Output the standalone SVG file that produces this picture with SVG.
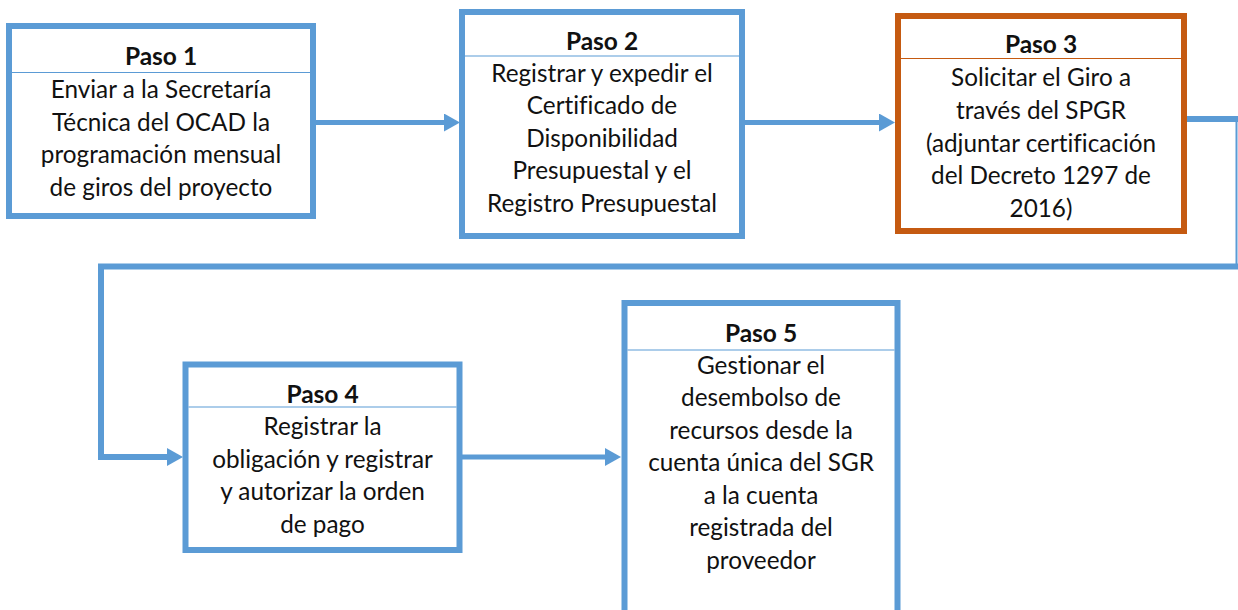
<svg xmlns="http://www.w3.org/2000/svg" width="1238" height="610" viewBox="0 0 1238 610">
<defs>
<marker id="ah" viewBox="0 0 16 18" markerWidth="16" markerHeight="18" refX="0" refY="9" orient="auto" markerUnits="userSpaceOnUse">
<path d="M0,0 L16,9 L0,18 Z" fill="#5B9BD5"/>
</marker>
<style>
.box{fill:#fff;stroke:#5B9BD5;stroke-width:6}
.box.o{stroke:#C55A11}
.div{stroke:#5B9BD5;stroke-width:1.2}
.div.o{stroke:#C55A11}
.t{font-family:Lato,"Liberation Sans",sans-serif;font-size:24.3px;fill:#111;text-anchor:middle;font-variant-ligatures:none}
.h{font-weight:bold;font-size:24.5px}
.c{fill:none;stroke:#5B9BD5;stroke-width:5}
</style>
</defs>
<rect width="1238" height="610" fill="#fff"/>
<g id="connectors">
<line class="c" x1="316" y1="122.5" x2="444" y2="122.5" marker-end="url(#ah)"/>
<line class="c" x1="745" y1="122.5" x2="879" y2="122.5" marker-end="url(#ah)"/>
<line class="c" style="stroke-width:6" x1="1187" y1="119" x2="1238" y2="119"/>
<line class="c" style="stroke-width:2" x1="1236.5" y1="119" x2="1236.5" y2="266"/>
<path class="c" style="stroke-width:6" d="M1238,266.5 H101 V457 H167" marker-end="url(#ah)"/>
<line class="c" x1="462" y1="457" x2="605" y2="457" marker-end="url(#ah)"/>
</g>
<g id="paso1">
<rect class="box" x="9" y="26" width="304" height="190"/>
<line class="div" x1="12" y1="72.5" x2="310" y2="72.5"/>
<text class="t h" x="161" y="65">Paso 1</text>
<text class="t" x="161" y="98">Enviar a la Secretaría</text>
<text class="t" x="161" y="130.5">Técnica del OCAD la</text>
<text class="t" x="161" y="163">programación mensual</text>
<text class="t" x="161" y="195.5">de giros del proyecto</text>
</g>
<g id="paso2">
<rect class="box" x="462" y="12" width="280" height="224"/>
<line class="div" x1="465" y1="56" x2="739" y2="56"/>
<text class="t h" x="602" y="50">Paso 2</text>
<text class="t" x="602" y="81.5">Registrar y expedir el</text>
<text class="t" x="602" y="114">Certificado de</text>
<text class="t" x="602" y="146.5">Disponibilidad</text>
<text class="t" x="602" y="179">Presupuestal y el</text>
<text class="t" x="602" y="211.5">Registro Presupuestal</text>
</g>
<g id="paso3">
<rect class="box o" x="898" y="16" width="286" height="215"/>
<line class="div o" x1="901" y1="58.5" x2="1181" y2="58.5"/>
<text class="t h" x="1041" y="53">Paso 3</text>
<text class="t" x="1041" y="86">Solicitar el Giro a</text>
<text class="t" x="1041" y="118.5">través del SPGR</text>
<text class="t" x="1041" y="151.5">(adjuntar certificación</text>
<text class="t" x="1041" y="184">del Decreto 1297 de</text>
<text class="t" x="1041" y="216.5">2016)</text>
</g>
<g id="paso4">
<rect class="box" x="185.5" y="364.5" width="274" height="185.5"/>
<line class="div" x1="188.5" y1="407" x2="456.5" y2="407"/>
<text class="t h" x="322.5" y="402.5">Paso 4</text>
<text class="t" x="322.5" y="435">Registrar la</text>
<text class="t" x="322.5" y="467.5">obligación y registrar</text>
<text class="t" x="322.5" y="500">y autorizar la orden</text>
<text class="t" x="322.5" y="532.5">de pago</text>
</g>
<g id="paso5">
<rect class="box" x="624.5" y="303" width="273" height="340"/>
<line class="div" x1="627.5" y1="350" x2="894.5" y2="350"/>
<text class="t h" x="761" y="341.5">Paso 5</text>
<text class="t" x="761" y="373.5">Gestionar el</text>
<text class="t" x="761" y="406">desembolso de</text>
<text class="t" x="761" y="438.5">recursos desde la</text>
<text class="t" x="761" y="471">cuenta única del SGR</text>
<text class="t" x="761" y="503.5">a la cuenta</text>
<text class="t" x="761" y="536">registrada del</text>
<text class="t" x="761" y="568.5">proveedor</text>
</g>
</svg>
